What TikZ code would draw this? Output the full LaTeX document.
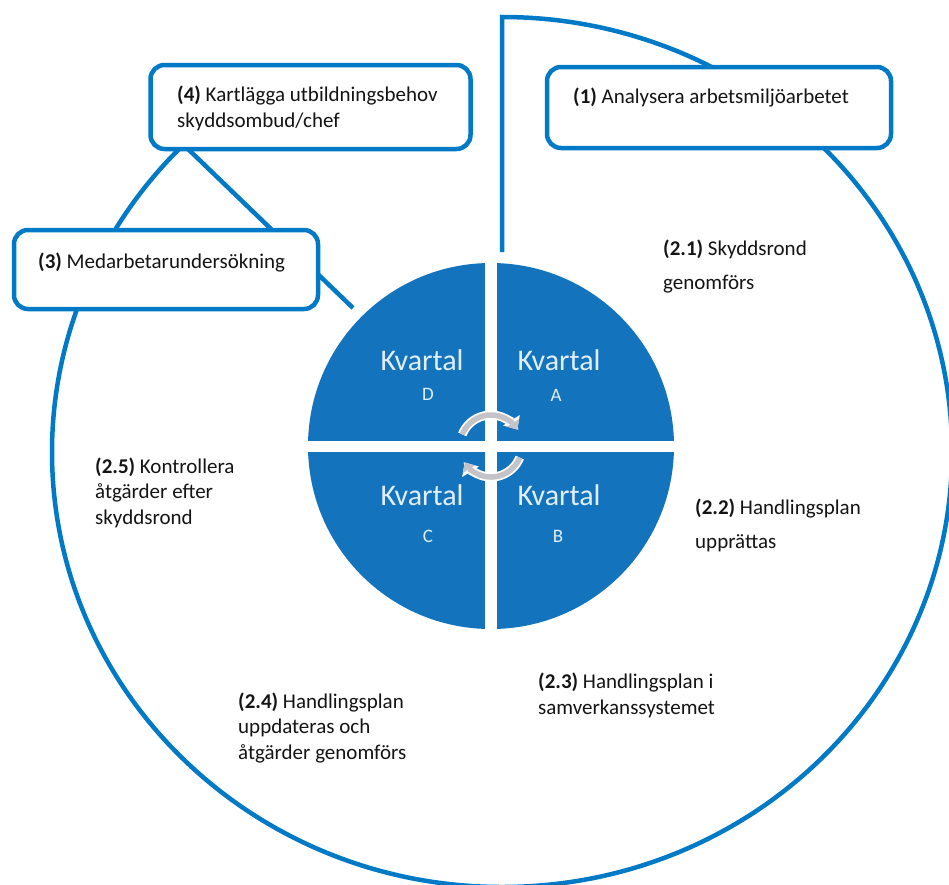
\documentclass[tikz,border=0pt]{standalone}
\usepackage{fontspec}
\setmainfont{Carlito}
\usetikzlibrary{arrows.meta}
\definecolor{lineblue}{RGB}{0,122,198}
\definecolor{pieblue}{RGB}{19,115,188}
\definecolor{kvtext}{RGB}{225,238,248}
\definecolor{arrowgray}{RGB}{196,196,200}
\definecolor{txt}{RGB}{20,20,20}
\tikzset{
  blueline/.style={draw=lineblue, line width=4.5pt},
  infobox/.style={draw=lineblue, line width=4.5pt, rounded corners=14pt, fill=white, inner sep=0pt},
  lbl/.style={font=\fontsize{21}{25.5}\selectfont, text=txt, align=left, inner sep=0pt, anchor=base west},
  lblwide/.style={lbl, font=\fontsize{21}{34}\selectfont},
  kvartal/.style={font=\fontsize{30}{36}\selectfont, text=kvtext, inner sep=0pt, anchor=base},
  kvletter/.style={font=\fontsize{19}{22}\selectfont, text=kvtext, inner sep=0pt, anchor=base},
  rotback/.style={draw=white, line width=9pt, -{Triangle[width=19pt,length=11pt]}},
  rotfront/.style={draw=arrowgray, line width=5.5pt, -{Triangle[width=14pt,length=8pt]}}
}
\begin{document}
\begin{tikzpicture}[x=1pt,y=-1pt]
\useasboundingbox (0,0) rectangle (949,884);
\clip (0,0) rectangle (949,884);
\fill[white] (0,0) rectangle (949,884);

% outer cycle line
\coordinate (vbot) at (502,252);
\coordinate (vtop) at (502,17);
\draw[blueline, line join=miter] (vbot) -- (vtop) arc[start angle=90, end angle=-233, x radius=450pt, y radius=435pt];

% central pie
\node[circle, fill=pieblue, minimum size=366pt, inner sep=0pt] (pie) at (491,446) {};
\fill[white] (485,258) rectangle (497,634);
\fill[white] (303,441) rectangle (679,452);

% diagonal line from box 4 to pie
\coordinate (dA) at (187,148);
\coordinate (dB) at (353,308);
\draw[blueline] (dA) -- (dB);

% rotating arrows
\coordinate (rc) at (491,446);
\draw[rotback] (rc) ++(158:31pt) arc[start angle=158, end angle=32, radius=31pt];
\draw[rotfront] (rc) ++(158:31pt) arc[start angle=158, end angle=32, radius=31pt];
\draw[rotback] (rc) ++(-22:31pt) arc[start angle=-22, end angle=-148, radius=31pt];
\draw[rotfront] (rc) ++(-22:31pt) arc[start angle=-22, end angle=-148, radius=31pt];

% quarter labels
\node[kvartal] (kd) at (422,370) {Kvartal};
\node[kvletter] (ld) at (428,400) {D};
\node[kvartal] (ka) at (559,370) {Kvartal};
\node[kvletter] (la) at (556,401) {A};
\node[kvartal] (kc) at (422,505) {Kvartal};
\node[kvletter] (lc) at (428,542) {C};
\node[kvartal] (kb) at (559,505) {Kvartal};
\node[kvletter] (lb) at (558,542) {B};

% boxes
\node[infobox, minimum width=320pt, minimum height=84pt] (box4) at (310.5,107) {};
\node[infobox, minimum width=304pt, minimum height=79pt] (box3) at (166,269.5) {};
\node[infobox, minimum width=344pt, minimum height=81pt] (box1) at (719,107.5) {};

% (base anchor of a multi-line node = baseline of its last line)
\node[lbl] (t4) at (177,127) {\textbf{(4)} Kartlägga utbildningsbehov\\skyddsombud/chef};
\node[lbl] (t3) at (38,268) {\textbf{(3)} Medarbetarundersökning};
\node[lbl] (t1) at (573,103) {\textbf{(1)} Analysera arbetsmiljöarbetet};

% step labels
\node[lblwide] (t21) at (663,289) {\textbf{(2.1)} Skyddsrond\\genomförs};
\node[lblwide] (t22) at (695,548) {\textbf{(2.2)} Handlingsplan\\upprättas};
\node[lbl] (t23) at (538,714) {\textbf{(2.3)} Handlingsplan i\\samverkanssystemet};
\node[lbl] (t24) at (238,759) {\textbf{(2.4)} Handlingsplan\\uppdateras och\\åtgärder genomförs};
\node[lbl] (t25) at (95,524) {\textbf{(2.5)} Kontrollera\\åtgärder efter\\skyddsrond};
\end{tikzpicture}
\end{document}
